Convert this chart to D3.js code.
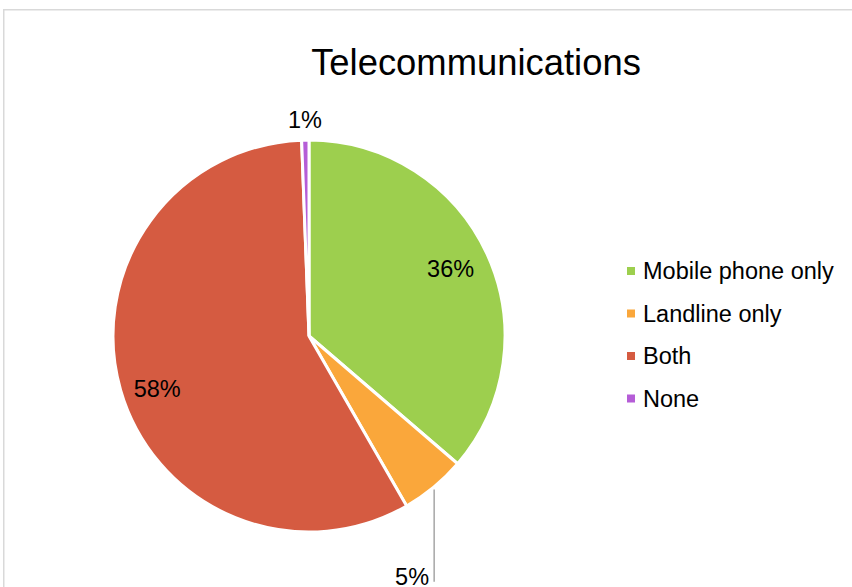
<!DOCTYPE html>
<html>
<head>
<meta charset="utf-8">
<script src="https://cdn.jsdelivr.net/npm/d3@7"></script>
<style>
  html, body { margin: 0; padding: 0; background: #fff; }
  svg { display: block; font-family: "Liberation Sans", Arial, sans-serif; }
</style>
</head>
<body>
<svg id="chart" width="852" height="587"></svg>
<script>
// ---- data ----
const title = "Telecommunications";
const categories = ["Mobile phone only", "Landline only", "Both", "None"];
const shares = [36.3, 5.4, 57.7, 0.6];
const colors = ["#9DCF4E", "#FAA73B", "#D55B41", "#B55DD7"];

// ---- layout ----
const W = 852, H = 587;
const cx = 309, cy = 336, R = 196;
// label placement per slice (Excel "best fit" style)
const labelLayout = [
  { type: "inside", angleDeg: 64.6, rf: 0.80 },
  { type: "leader", angleDeg: 156.8, rf: 1.335 },
  { type: "inside", angleDeg: 250.8, rf: 0.82 },
  { type: "outside", angleDeg: null, rf: 1.10 }
];

const svg = d3.select("#chart");

// chart border
svg.append("rect")
  .attr("x", 3.75).attr("y", 9.75)
  .attr("width", W + 20).attr("height", H + 20)
  .attr("fill", "#fff").attr("stroke", "#d9d9d9").attr("stroke-width", 1.5);

// title
svg.append("text")
  .attr("x", 476).attr("y", 75)
  .attr("text-anchor", "middle")
  .attr("font-size", 36.4)
  .attr("fill", "#000")
  .text(title);

const data = categories.map((c, i) => ({ name: c, value: shares[i], color: colors[i] }));
const pie = d3.pie().sort(null).value(d => d.value).startAngle(0).endAngle(2 * Math.PI);
const arcs = pie(data);
const arc = d3.arc().innerRadius(0).outerRadius(R);

const g = svg.append("g").attr("transform", `translate(${cx},${cy})`);

g.selectAll("path.slice")
  .data(arcs)
  .join("path")
  .attr("class", "slice")
  .attr("d", arc)
  .attr("fill", d => d.data.color)
  .attr("stroke", "#fff")
  .attr("stroke-width", 3)
  .attr("stroke-linejoin", "miter");

const total = d3.sum(shares);
const fmt = v => Math.round(v / total * 100) + "%";
const fs = 23.5;

arcs.forEach((a, i) => {
  const lay = labelLayout[i];
  const ang = lay.angleDeg == null ? (a.startAngle + a.endAngle) / 2 : lay.angleDeg * Math.PI / 180;
  const r = R * lay.rf;
  const x = Math.sin(ang) * r, y = -Math.cos(ang) * r;
  const txt = g.append("text")
    .attr("x", x).attr("y", y)
    .attr("text-anchor", "middle")
    .attr("dominant-baseline", "central")
    .attr("font-size", fs)
    .attr("fill", "#000")
    .text(fmt(a.data.value));
  if (lay.type === "leader") {
    const bb = txt.node().getBBox();
    const lx = bb.x + bb.width + 5;
    const yBottom = y + fs * 0.05;
    const yTop = Math.sqrt(Math.max(0, (R + 2) * (R + 2) - lx * lx));
    g.insert("line", "text")
      .attr("x1", lx).attr("x2", lx)
      .attr("y1", yTop).attr("y2", yBottom + 4)
      .attr("stroke", "#a6a6a6").attr("stroke-width", 1.5);
  }
});

// legend
const legend = svg.append("g").attr("transform", "translate(627,271)");
const rowH = 42.5;
const items = legend.selectAll("g").data(data).join("g")
  .attr("transform", (d, i) => `translate(0,${i * rowH})`);
items.append("rect")
  .attr("x", 0).attr("y", -4).attr("width", 8).attr("height", 8)
  .attr("fill", d => d.color);
items.append("text")
  .attr("x", 16).attr("y", 0)
  .attr("dominant-baseline", "central")
  .attr("font-size", fs)
  .attr("fill", "#000")
  .text(d => d.name);
</script>
</body>
</html>
